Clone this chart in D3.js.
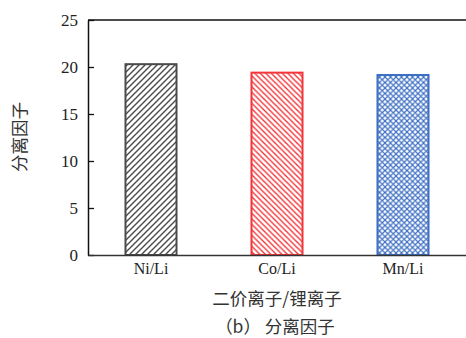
<!DOCTYPE html>
<html><head><meta charset="utf-8">
<script src="https://cdn.jsdelivr.net/npm/d3@7"></script>
<style>body{margin:0;background:#fff}svg{display:block}</style>
</head><body>
<script>
const categories = ["Ni/Li", "Co/Li", "Mn/Li"];
const values = [20.3, 19.4, 19.15];
const yTicks = [0, 5, 10, 15, 20, 25];
const colors = ["#4a4a4a", "#f2353a", "#3d6fc2"];
const patterns = ["fwd", "back", "cross"];

(function () {
const W = 466, H = 338;
const svg = d3.select("body").append("svg").attr("width", W).attr("height", H);
const mLeft = 88, mRight = 466, mTop = 20, mBottom = 255;

const x = d3.scaleBand().domain(categories).range([mLeft, mRight]).paddingInner(0.595).paddingOuter(0.2975);
const y = d3.scaleLinear().domain([0, 25]).range([mBottom, mTop]);

const defs = svg.append("defs");
function mkPattern(id, kind, color) {
  const s = kind === "fwd" ? 6 : 5.5;
  const p = defs.append("pattern").attr("id", id).attr("patternUnits", "userSpaceOnUse")
    .attr("width", s).attr("height", s);
  const fwd = `M0,${s} L${s},0 M${-s/2},${s/2} L${s/2},${-s/2} M${s/2},${s*1.5} L${s*1.5},${s/2}`;
  const back = `M0,0 L${s},${s} M${-s/2},${s/2} L${s/2},${s*1.5} M${s/2},${-s/2} L${s*1.5},${s/2}`;
  const d = kind === "fwd" ? fwd : kind === "back" ? back : fwd + " " + back;
  p.append("path").attr("d", d).attr("stroke", color).attr("stroke-width", kind === "cross" ? 1.2 : 1.4);
}
categories.forEach((c, i) => mkPattern("pat" + i, patterns[i], colors[i]));

svg.selectAll("rect.bar").data(categories).enter().append("rect")
  .attr("class", "bar")
  .attr("x", d => x(d))
  .attr("y", (d, i) => y(values[i]))
  .attr("width", x.bandwidth())
  .attr("height", (d, i) => y(0) - y(values[i]))
  .attr("fill", (d, i) => `url(#pat${i})`)
  .attr("stroke", (d, i) => colors[i])
  .attr("stroke-width", 2);

const yAxis = d3.axisLeft(y).tickValues(yTicks).tickSizeInner(-6).tickSizeOuter(0).tickPadding(10);
const gy = svg.append("g").attr("transform", `translate(${mLeft},0)`).call(yAxis);
gy.selectAll("text").attr("font-family", "'Liberation Serif', 'DejaVu Serif', serif").attr("font-size", 17).attr("fill", "#222");
gy.select(".domain").attr("stroke", "#111").attr("stroke-width", 1.5);
gy.selectAll(".tick line").attr("stroke", "#111").attr("stroke-width", 1.3);

const xAxis = d3.axisBottom(x).tickSize(0).tickPadding(8);
const gx = svg.append("g").attr("transform", `translate(0,${mBottom})`).call(xAxis);
gx.selectAll("text").attr("font-family", "'Liberation Serif', 'DejaVu Serif', serif").attr("font-size", 16).attr("fill", "#222");
gx.select(".domain").attr("stroke", "#333").attr("stroke-width", 1.5);

svg.append("line").attr("x1", mLeft).attr("x2", mRight).attr("y1", mTop).attr("y2", mTop)
  .attr("stroke", "#111").attr("stroke-width", 1.5);

const cjk = "'Noto Sans CJK SC', sans-serif";
svg.append("text").attr("x", 277).attr("y", 305).attr("text-anchor", "middle")
  .attr("font-family", cjk).attr("font-size", 17.5).attr("fill", "#333").text("二价离子/锂离子");
svg.append("text").attr("x", 275).attr("y", 333).attr("text-anchor", "middle")
  .attr("font-family", cjk).attr("font-size", 17.5).attr("fill", "#333").text("（b） 分离因子");
svg.append("text").attr("transform", "translate(26,137) rotate(-90)").attr("text-anchor", "middle")
  .attr("font-family", cjk).attr("font-size", 17.5).attr("fill", "#333").text("分离因子");
})();
</script>
</body></html>
